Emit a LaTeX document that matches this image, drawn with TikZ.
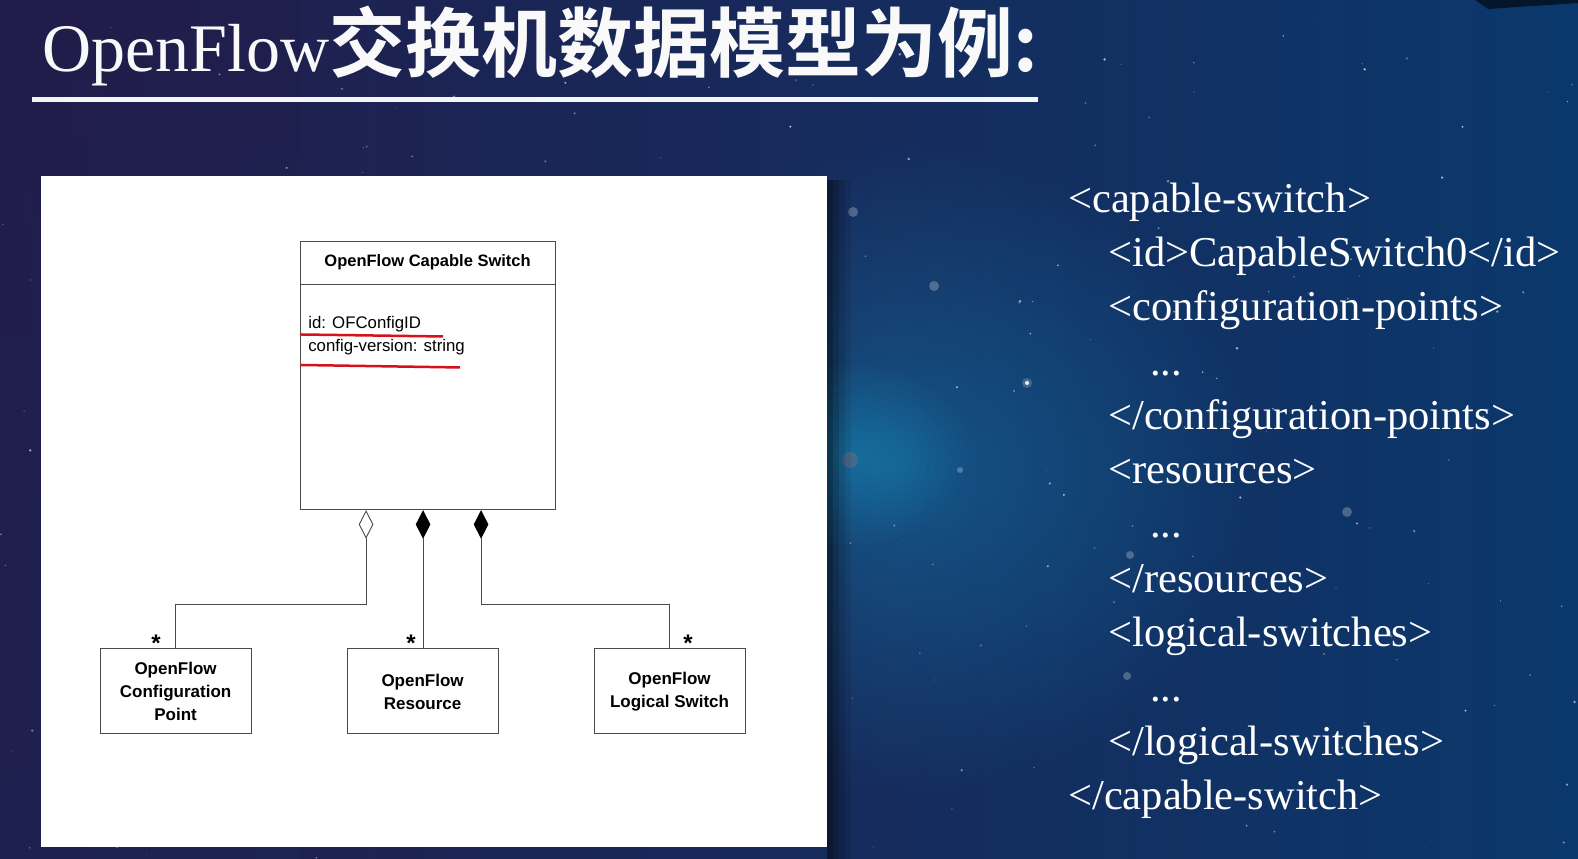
\documentclass[tikz,border=0pt]{standalone}
\usepackage{fontspec}
\setmainfont{Liberation Serif}
\newfontfamily\umlfont{Liberation Sans}
\newfontfamily\cjkfont{Noto Sans CJK SC Bold}
\usetikzlibrary{shapes.geometric,calc}

\definecolor{bgL}{HTML}{221C4A}
\definecolor{bgM}{HTML}{0F386A}
\definecolor{bgR}{HTML}{0B386C}
\definecolor{glowc}{HTML}{3A95C8}
\definecolor{umlline}{HTML}{4A4A4A}
\definecolor{markred}{HTML}{D3121C}

\begin{document}
\begin{tikzpicture}[x=1pt,y=-1pt,
  umlbox/.style={draw=umlline, line width=1pt, fill=white, inner sep=0pt},
  classbox/.style={umlbox, minimum width=151pt, minimum height=85pt, align=center,
    font=\umlfont\bfseries\fontsize{17}{23}\selectfont},
  link/.style={draw=umlline, line width=1pt},
  agg/.style={diamond, draw=umlline, line width=0.9pt, fill=white,
    minimum width=14pt, minimum height=27pt, inner sep=0pt, anchor=north},
  comp/.style={agg, fill=black, draw=black},
  mult/.style={font=\umlfont\bfseries\fontsize{24}{24}\selectfont, inner sep=0pt},
  xml/.style={anchor=base west, text=white, inner sep=0pt,
    font=\fontsize{42.5}{50}\selectfont},
]
% background: night sky
\shade[left color=bgL, middle color=bgM, right color=bgR] (0,0) rectangle (1578,859);
\shade[top color=bgL, bottom color=bgL!50!bgM, opacity=0.35] (0,0) rectangle (300,859);
\foreach \r in {8,16,...,320}
  \fill[glowc, opacity=0.016] (900,470) ellipse ({\r*1.1} and \r);
\foreach \r in {6,12,...,90}
  \fill[glowc!80!cyan, opacity=0.03] (850,455) ellipse ({\r*1.3} and \r);
\fill[red!60!white, opacity=0.2] (850,460) circle (8);
\fill[black!60!bgR] (1475,0) -- (1578,0) -- (1578,3) -- (1488,9) -- cycle;
\pgfmathsetseed{1234}
\foreach \i in {1,...,260}{
  \pgfmathsetmacro\sx{1578*rnd}
  \pgfmathsetmacro\sy{859*rnd}
  \pgfmathsetmacro\sr{0.4+1.0*rnd}
  \pgfmathsetmacro\so{0.2+0.5*rnd}
  \fill[white, opacity=\so] (\sx,\sy) circle (\sr);
}
\foreach \px/\py/\pr in {853/212/5,1347/512/5,934/286/5,1130/555/4,1127/676/4,960/470/3}
  \fill[white, opacity=0.25] (\px,\py) circle (\pr);
\fill[white, opacity=0.9] (1027,383) circle (2);
\fill[white, opacity=0.2] (1027,383) circle (5);

% title
\node[anchor=base west, inner sep=0pt, text=white!95!gray] (title) at (42,72)
  {{\fontsize{68}{72}\selectfont OpenFlow}{\cjkfont\fontsize{76}{80}\selectfont 交换机数据模型为例:}};
\draw[white!92!gray, line width=5pt] (32,100) -- (1038,100);

% white panel with its shadow
\foreach \k/\o in {0/0.45,6/0.3,12/0.18,18/0.08}
  \fill[black, opacity=\o] (827+\k,180) rectangle (833+\k,859);
\fill[white] (41,176) rectangle (827,847);

% UML class diagram
\node[umlbox, minimum width=255pt, minimum height=268pt] (sw) at (427.5,376) {};
\node[font=\umlfont\bfseries\fontsize{16.5}{20}\selectfont, inner sep=0pt]
  (swname) at ($(sw.north)+(0,21)$) {OpenFlow Capable Switch};
\draw[link] ($(sw.north west)+(0,43)$) -- ($(sw.north east)+(0,43)$);
\node[anchor=base west, inner sep=0pt, font=\umlfont\fontsize{16.8}{20}\selectfont]
  (attr1) at (308,329) {id: OFConfigID};
\node[anchor=base west, inner sep=0pt, font=\umlfont\fontsize{16.8}{20}\selectfont]
  (attr2) at (308,352) {config-version: string};
\draw[markred, line width=2.5pt] (300,334.5) -- (443,336.5);
\draw[markred, line width=2.5pt] (300,365) -- (460,367.5);

\node[classbox] (cp)  at (175.5,691.5) {OpenFlow\\Configuration\\Point};
\node[classbox] (res) at (422.5,691.5) {OpenFlow\\Resource};
\node[classbox] (ls)  at (669.5,691.5) {OpenFlow\\Logical Switch};

\node[agg]  (dA) at ($(sw.south)+(-61.5,0)$) {};
\node[comp] (dB) at ($(sw.south)+(-4.5,0)$) {};
\node[comp] (dC) at ($(sw.south)+(53.5,0)$) {};

\coordinate (jA) at (dA.south |- 0,605);
\coordinate (jC) at (dC.south |- 0,605);
\draw[link] (dA.south) -- (jA) -| (cp.north);
\draw[link] (dB.south) -- (dB.south |- res.north);
\draw[link] (dC.south) -- (jC) -| (ls.north);

\node[mult] (m1) at (156,643) {*};
\node[mult] (m2) at (411,643) {*};
\node[mult] (m3) at (688,643) {*};

% XML view of the same model
\node[xml] (x1)  at (1068,213) {<capable-switch>};
\node[xml] (x2)  at (1108,267) {<id>CapableSwitch0</id>};
\node[xml] (x3)  at (1108,321) {<configuration-points>};
\node[xml] (x4)  at (1150,376) {...};
\node[xml] (x5)  at (1108,430) {</configuration-points>};
\node[xml] (x6)  at (1108,484) {<resources>};
\node[xml] (x7)  at (1150,538) {...};
\node[xml] (x8)  at (1108,593) {</resources>};
\node[xml] (x9)  at (1108,647) {<logical-switches>};
\node[xml] (x10) at (1150,702) {...};
\node[xml] (x11) at (1108,756) {</logical-switches>};
\node[xml] (x12) at (1068,810) {</capable-switch>};
\end{tikzpicture}
\end{document}
